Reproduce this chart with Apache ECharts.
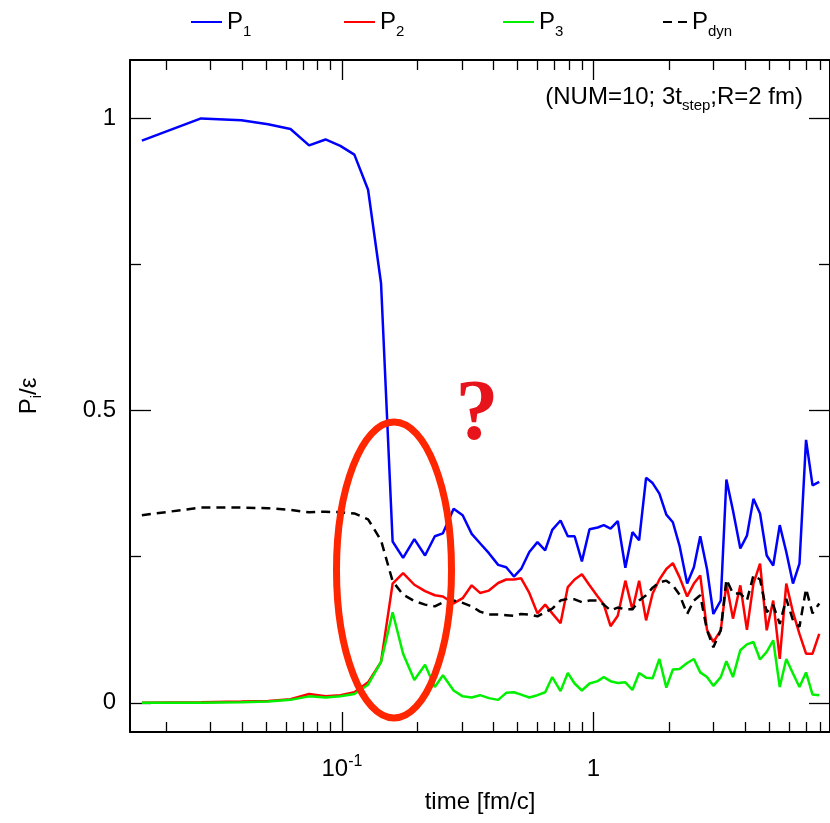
<!DOCTYPE html>
<html>
<head>
<meta charset="utf-8">
<script src="https://cdn.jsdelivr.net/npm/echarts@6/dist/echarts.min.js"></script>
<style>
  html, body { margin: 0; padding: 0; background: #fff; }
  #chart { width: 830px; height: 823px; }
</style>
</head>
<body>
<div id="chart"></div>
<script>
  var FONT = 'Liberation Sans, Arial, Helvetica, sans-serif';

  // time [fm/c]
  var time = [0.0160, 0.0275, 0.0398, 0.0508, 0.0624, 0.0740, 0.0860, 0.0985, 0.112, 0.127,
    0.143, 0.159, 0.175, 0.194, 0.214, 0.234, 0.252, 0.278, 0.302, 0.328,
    0.354, 0.384, 0.418, 0.450, 0.483, 0.516, 0.556, 0.599, 0.643, 0.686,
    0.740, 0.791, 0.842, 0.900, 0.965, 1.04, 1.10, 1.17, 1.25, 1.34,
    1.43, 1.52, 1.62, 1.72, 1.83, 1.95, 2.07, 2.20, 2.36, 2.51,
    2.66, 2.83, 3.00, 3.21, 3.38, 3.59, 3.84, 4.08, 4.33, 4.60,
    4.89, 5.19, 5.51, 5.85, 6.22, 6.60, 7.01, 7.44, 7.91];

  var p1 = [0.962, 1.000, 0.997, 0.990, 0.982, 0.954, 0.964, 0.953, 0.938, 0.878,
    0.718, 0.276, 0.248, 0.280, 0.252, 0.285, 0.290, 0.332, 0.321, 0.289,
    0.273, 0.256, 0.236, 0.232, 0.216, 0.229, 0.258, 0.275, 0.261, 0.296,
    0.312, 0.285, 0.285, 0.242, 0.297, 0.300, 0.304, 0.298, 0.311, 0.231,
    0.292, 0.278, 0.385, 0.376, 0.358, 0.322, 0.309, 0.269, 0.204, 0.232,
    0.285, 0.229, 0.152, 0.175, 0.382, 0.329, 0.264, 0.286, 0.349, 0.324,
    0.252, 0.235, 0.304, 0.258, 0.204, 0.238, 0.450, 0.372, 0.378];

  var p2 = [0.000, 0.001, 0.002, 0.003, 0.006, 0.015, 0.011, 0.013, 0.018, 0.035,
    0.070, 0.204, 0.222, 0.202, 0.191, 0.184, 0.182, 0.170, 0.179, 0.201,
    0.188, 0.192, 0.205, 0.211, 0.211, 0.213, 0.188, 0.153, 0.168, 0.153,
    0.136, 0.198, 0.211, 0.220, 0.201, 0.182, 0.168, 0.131, 0.149, 0.209,
    0.159, 0.209, 0.141, 0.187, 0.211, 0.229, 0.239, 0.215, 0.182, 0.204,
    0.218, 0.125, 0.104, 0.124, 0.204, 0.144, 0.201, 0.125, 0.204, 0.238,
    0.124, 0.175, 0.075, 0.204, 0.155, 0.118, 0.084, 0.084, 0.118];

  var p3 = [0.000, 0.000, 0.001, 0.002, 0.005, 0.011, 0.009, 0.011, 0.015, 0.031,
    0.070, 0.155, 0.084, 0.039, 0.065, 0.027, 0.047, 0.021, 0.011, 0.009,
    0.013, 0.008, 0.005, 0.017, 0.018, 0.014, 0.009, 0.013, 0.018, 0.044,
    0.020, 0.051, 0.033, 0.021, 0.033, 0.037, 0.044, 0.037, 0.034, 0.035,
    0.022, 0.051, 0.043, 0.042, 0.075, 0.026, 0.057, 0.058, 0.068, 0.075,
    0.052, 0.044, 0.029, 0.044, 0.071, 0.044, 0.090, 0.100, 0.104, 0.074,
    0.087, 0.107, 0.027, 0.075, 0.050, 0.027, 0.052, 0.014, 0.013];

  var pdyn = [0.321, 0.334, 0.334, 0.333, 0.330, 0.326, 0.327, 0.326, 0.324, 0.314,
    0.278, 0.208, 0.185, 0.174, 0.168, 0.165, 0.172, 0.175, 0.171, 0.165,
    0.156, 0.151, 0.151, 0.150, 0.149, 0.152, 0.151, 0.148, 0.155, 0.161,
    0.175, 0.178, 0.177, 0.172, 0.175, 0.175, 0.168, 0.158, 0.163, 0.160,
    0.160, 0.175, 0.184, 0.197, 0.206, 0.209, 0.201, 0.185, 0.152, 0.175,
    0.184, 0.124, 0.095, 0.124, 0.211, 0.187, 0.187, 0.175, 0.218, 0.211,
    0.155, 0.167, 0.135, 0.178, 0.141, 0.130, 0.195, 0.153, 0.170];

  var xMinTime = 0.01435, xMaxTime = 8.73;
  var xMajorTicks = [0.1, 1];
  var xMinorTicks = [0.02, 0.03, 0.04, 0.05, 0.06, 0.07, 0.08, 0.09,
    0.2, 0.3, 0.4, 0.5, 0.6, 0.7, 0.8, 0.9, 2, 3, 4, 5, 6, 7, 8];
  var yMin = -0.05, yMax = 1.1;
  var yMajorTicks = [0, 0.5, 1];
  var yMinorTicks = [0.25, 0.75];

  function lg(v) { return Math.log10(v); }
  function pairs(vals) {
    return time.map(function (t, i) { return [lg(t), vals[i]]; });
  }

  var gridRect = { left: 130, right: -10, top: 60, bottom: 91 };

  function xAxisDef(grid, pos, ticks, len, label) {
    var ax = {
      type: 'value', gridIndex: grid, position: pos,
      min: lg(xMinTime), max: lg(xMaxTime),
      axisLine: { show: grid === 0, onZero: false, lineStyle: { color: '#000', width: 2 } },
      axisTick: { show: true, inside: true, length: len, customValues: ticks.map(lg),
        lineStyle: { color: '#000', width: 1.3 } },
      axisLabel: { show: false },
      splitLine: { show: false }
    };
    if (label) {
      ax.axisLabel = {
        show: true, margin: 22, customValues: ticks.map(lg),
        formatter: function (v) {
          if (Math.abs(v + 1) < 1e-6) return '{b|10}{sup|-1}';
          if (Math.abs(v) < 1e-6) return '{b|1}';
          return '';
        },
        rich: {
          b: { fontFamily: FONT, fontSize: 24, lineHeight: 30, color: '#000' },
          sup: { fontFamily: FONT, fontSize: 16, lineHeight: 24, verticalAlign: 'top', color: '#000' }
        }
      };
      ax.name = 'time [fm/c]';
      ax.nameLocation = 'middle';
      ax.nameGap = 58;
      ax.nameTextStyle = { fontFamily: FONT, fontSize: 24, color: '#000' };
    }
    return ax;
  }

  function yAxisDef(grid, pos, ticks, len, label) {
    var ax = {
      type: 'value', gridIndex: grid, position: pos,
      min: yMin, max: yMax,
      axisLine: { show: grid === 0, onZero: false, lineStyle: { color: '#000', width: 2 } },
      axisTick: { show: true, inside: true, length: len, customValues: ticks,
        lineStyle: { color: '#000', width: 1.3 } },
      axisLabel: { show: false },
      splitLine: { show: false }
    };
    if (label) {
      ax.axisLabel = {
        show: true, margin: 14, customValues: ticks,
        fontFamily: FONT, fontSize: 24, color: '#000'
      };
      ax.name = '{a|P}{i|i}{a|/ε}';
      ax.nameLocation = 'middle';
      ax.nameRotate = 90;
      ax.nameGap = 86;
      ax.nameTextStyle = {
        rich: {
          a: { fontFamily: FONT, fontSize: 24, lineHeight: 30, color: '#000' },
          i: { fontFamily: FONT, fontSize: 15, lineHeight: 15, verticalAlign: 'bottom', color: '#000' }
        }
      };
    }
    return ax;
  }

  function legendDef(name, left, width) {
    return {
      data: [name], left: left, top: 5, itemWidth: width, itemHeight: 14,
      selectedMode: false,
      // hide the marker circle that line series put in the legend icon
      itemStyle: { color: 'transparent', borderColor: 'transparent', opacity: 0 },
      formatter: function (n) { return '{m|P}{s|' + n.slice(1) + '}'; },
      textStyle: {
        rich: {
          m: { fontFamily: FONT, fontSize: 24, lineHeight: 34, color: '#000' },
          s: { fontFamily: FONT, fontSize: 15, lineHeight: 15, verticalAlign: 'bottom', color: '#000' }
        }
      }
    };
  }

  function lineSeries(name, vals, color, dash) {
    return {
      name: name, type: 'line', xAxisIndex: 0, yAxisIndex: 0,
      symbol: 'none', data: pairs(vals),
      lineStyle: { color: color, width: 2.5, type: dash || 'solid' },
      itemStyle: { color: color }
    };
  }

  var myChart = echarts.init(document.getElementById('chart'));
  var option = {
    animation: false,
    backgroundColor: '#fff',
    grid: [
      Object.assign({}, gridRect),
      Object.assign({}, gridRect)
    ],
    legend: [
      legendDef('P1', 185, 31),
      legendDef('P2', 338, 31),
      legendDef('P3', 497, 31),
      legendDef('Pdyn', 657, 24)
    ],
    xAxis: [
      xAxisDef(0, 'bottom', xMajorTicks, 20, true),
      xAxisDef(0, 'top', xMajorTicks, 20, false),
      xAxisDef(1, 'bottom', xMinorTicks, 10, false),
      xAxisDef(1, 'top', xMinorTicks, 10, false)
    ],
    yAxis: [
      yAxisDef(0, 'left', yMajorTicks, 21, true),
      yAxisDef(0, 'right', yMajorTicks, 21, false),
      yAxisDef(1, 'left', yMinorTicks, 11, false),
      yAxisDef(1, 'right', yMinorTicks, 11, false)
    ],
    series: [
      lineSeries('P1', p1, '#0000ff'),
      lineSeries('P2', p2, '#ff0000'),
      lineSeries('P3', p3, '#00f000'),
      lineSeries('Pdyn', pdyn, '#000000', [9, 6])
    ],
    graphic: [
      {
        type: 'text', z: 50,
        style: {
          x: 803, y: 97, align: 'right', verticalAlign: 'middle',
          text: '{n|(NUM=10; 3t}{s|step}{n|;R=2 fm)}',
          rich: {
            n: { fontFamily: FONT, fontSize: 24, lineHeight: 32, fill: '#000' },
            s: { fontFamily: FONT, fontSize: 15, lineHeight: 15, verticalAlign: 'bottom', fill: '#000' }
          }
        }
      },
      {
        type: 'ellipse', z: 60,
        shape: { cx: 394, cy: 570, rx: 57.5, ry: 148 },
        style: { fill: 'none', stroke: '#ff2600', lineWidth: 7 }
      },
      {
        type: 'text', z: 60,
        style: {
          x: 477, y: 417, align: 'center', verticalAlign: 'middle',
          text: '?', fontFamily: 'Liberation Serif, Times New Roman, serif',
          fontWeight: 'bold', fontSize: 86, fill: '#e8141b'
        }
      }
    ]
  };
  myChart.setOption(option);
</script>
</body>
</html>
